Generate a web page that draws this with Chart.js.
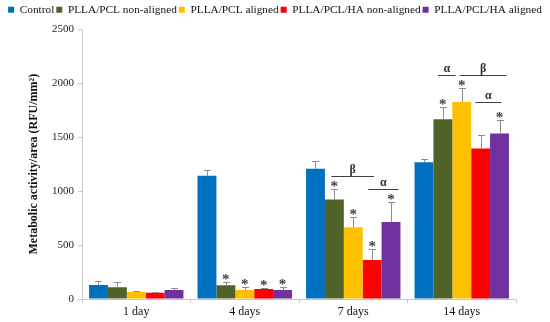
<!DOCTYPE html>
<html>
<head>
<meta charset="utf-8">
<script src="https://cdn.jsdelivr.net/npm/chart.js@4/dist/chart.umd.min.js"></script>
<style>
  html, body { margin: 0; padding: 0; background: #fff; }
  #wrap { width: 550px; height: 322px; }
</style>
</head>
<body>
<div id="wrap"><canvas id="chart"></canvas></div>
<script>
// categorias y series
const categories = ['1 day', '4 days', '7 days', '14 days'];
const seriesNames = ['Control', 'PLLA/PCL non-aligned', 'PLLA/PCL aligned', 'PLLA/PCL/HA non-aligned', 'PLLA/PCL/HA aligned'];
const seriesColors = ['#0070C0', '#4F6228', '#FFC000', '#FF0000', '#7030A0'];

const control      = [130, 1142, 1207, 1268];
const plaPclNon    = [108, 127, 923, 1667];
const plaPclAl     = [65, 83, 664, 1827];
const plaPclHaNon  = [58, 93, 361, 1395];
const plaPclHaAl   = [83, 83, 713, 1534];

// desviaciones (solo hacia arriba)
const controlErr     = [37, 50, 68, 34];
const plaPclNonErr   = [47, 30, 95, 117];
const plaPclAlErr    = [8, 30, 92, 130];
const plaPclHaNonErr = [10, 8, 105, 126];
const plaPclHaAlErr  = [20, 25, 182, 126];

// asteriscos (1 = significativo)
const controlStar     = [0, 0, 0, 0];
const plaPclNonStar   = [0, 1, 1, 1];
const plaPclAlStar    = [0, 1, 1, 1];
const plaPclHaNonStar = [0, 1, 1, 0];
const plaPclHaAlStar  = [0, 1, 1, 1];

// barras de significancia: categoria, desde/hasta (posicion de barra), valor, etiqueta
const brackets = [
    { cat: 2, from: 0.84, to: 3.1, value: 1142, label: 'β' },
    { cat: 2, from: 2.8, to: 4.4, value: 1018, label: 'α' },
    { cat: 3, from: 0.74, to: 1.67, value: 2080, label: 'α' },
    { cat: 3, from: 1.9, to: 4.37, value: 2080, label: 'β' },
    { cat: 3, from: 2.72, to: 4.1, value: 1830, label: 'α' }
];

const yTicks = [0, 500, 1000, 1500, 2000, 2500];

const values = [control, plaPclNon, plaPclAl, plaPclHaNon, plaPclHaAl];
const errors = [controlErr, plaPclNonErr, plaPclAlErr, plaPclHaNonErr, plaPclHaAlErr];
const stars = [controlStar, plaPclNonStar, plaPclAlStar, plaPclHaNonStar, plaPclHaAlStar];

const serif = "'Liberation Serif', 'Times New Roman', serif";

// Plugin: un poco mas de aire debajo de la leyenda
const legendGap = {
    id: 'legendGap',
    beforeInit(chart) {
        const fit = chart.legend.fit;
        chart.legend.fit = function () {
            fit.bind(chart.legend)();
            this.height += 4;
        };
    }
};

// Plugin: barras de error, asteriscos y corchetes
const annotations = {
    id: 'annotations',
    afterDatasetsDraw(chart) {
        const ctx = chart.ctx;
        const y = chart.scales.y;
        const x = chart.scales.x;
        ctx.save();

        chart.data.datasets.forEach((ds, di) => {
            const meta = chart.getDatasetMeta(di);
            meta.data.forEach((bar, i) => {
                const top = y.getPixelForValue(values[di][i] + errors[di][i]);
                ctx.strokeStyle = '#8c8c8c';
                ctx.lineWidth = 1;
                ctx.beginPath();
                ctx.moveTo(Math.round(bar.x) + 0.5, bar.y);
                ctx.lineTo(Math.round(bar.x) + 0.5, Math.round(top) + 0.5);
                ctx.moveTo(Math.round(bar.x) - 3, Math.round(top) + 0.5);
                ctx.lineTo(Math.round(bar.x) + 4, Math.round(top) + 0.5);
                ctx.stroke();

                if (stars[di][i]) {
                    ctx.fillStyle = '#404040';
                    ctx.font = 'bold 15px ' + serif;
                    ctx.textAlign = 'center';
                    ctx.textBaseline = 'alphabetic';
                    ctx.fillText('*', bar.x, top + 2);
                }
            });
        });

        const bw = chart.getDatasetMeta(0).data[0].width;
        brackets.forEach(b => {
            const cx = x.getPixelForValue(b.cat);
            const x1 = cx + (b.from - 2) * bw;
            const x2 = cx + (b.to - 2) * bw;
            const py = Math.round(y.getPixelForValue(b.value)) + 0.5;
            ctx.strokeStyle = '#404040';
            ctx.lineWidth = 1;
            ctx.beginPath();
            ctx.moveTo(x1, py);
            ctx.lineTo(x2, py);
            ctx.stroke();
            ctx.fillStyle = '#333';
            ctx.font = 'bold 12px ' + serif;
            ctx.textAlign = 'center';
            ctx.textBaseline = 'alphabetic';
            ctx.fillText(b.label, (x1 + x2) / 2, py - 4);
        });

        ctx.restore();
    }
};

new Chart(document.getElementById('chart').getContext('2d'), {
    type: 'bar',
    data: {
        labels: categories,
        datasets: seriesNames.map((name, i) => ({
            label: name,
            data: values[i],
            backgroundColor: seriesColors[i],
            borderWidth: 0,
            categoryPercentage: 0.87,
            barPercentage: 1
        }))
    },
    options: {
        responsive: true,
        maintainAspectRatio: false,
        animation: false,
        layout: { padding: { left: 0, right: 0, top: 2, bottom: 0 } },
        plugins: {
            tooltip: { enabled: false },
            legend: {
                position: 'top',
                labels: {
                    boxWidth: 6,
                    boxHeight: 6,
                    padding: 2,
                    color: '#111',
                    font: { family: serif, size: 11.3 }
                }
            }
        },
        scales: {
            x: {
                grid: { display: true, drawOnChartArea: false, tickLength: 4, color: '#c8c8c8', offset: true },
                border: { color: '#c8c8c8' },
                ticks: { color: '#111', font: { family: serif, size: 12 }, padding: 2 },
                afterFit(scale) { scale.height = 23; }
            },
            y: {
                min: 0,
                max: 2500,
                afterBuildTicks(scale) { scale.ticks = yTicks.map(v => ({ value: v })); },
                grid: { display: true, drawOnChartArea: false, tickLength: 4, color: '#c8c8c8' },
                border: { color: '#c8c8c8' },
                ticks: {
                    color: '#222',
                    font: { family: serif, size: 11 },
                    padding: 4,
                    callback: v => String(v)
                },
                title: {
                    display: true,
                    text: 'Metabolic activity/area (RFU/mm²)',
                    color: '#111',
                    font: { family: serif, size: 12, weight: 'bold' },
                    padding: { top: 27, bottom: 0 }
                },
                afterFit(scale) { scale.width = 82; }
            },
            // eje vacio a la derecha, solo para dejar margen al area del grafico
            spacer: {
                type: 'linear',
                position: 'right',
                display: true,
                grid: { display: false },
                border: { display: false },
                ticks: { display: false },
                afterFit(scale) { scale.width = 34; }
            }
        }
    },
    plugins: [legendGap, annotations]
});
</script>
</body>
</html>
